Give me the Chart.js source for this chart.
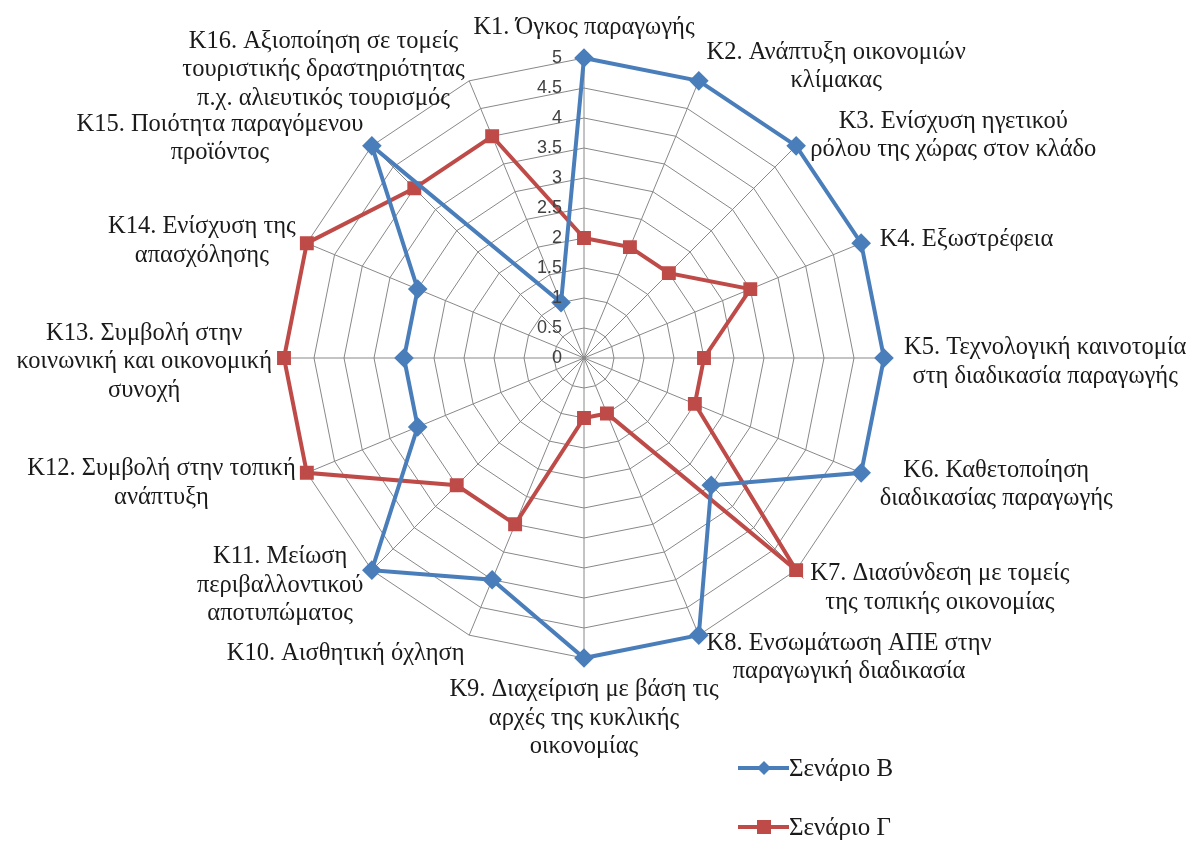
<!DOCTYPE html>
<html>
<head>
<meta charset="utf-8">
<script src="https://cdn.jsdelivr.net/npm/chart.js@4"></script>
<style>
  body { margin: 0; background: #fff; }
  #wrap { position: relative; width: 1194px; height: 841px; }
  #legend { position: absolute; left: 738px; top: 750px; font-family: "Liberation Serif", serif; font-size: 25px; color: #1a1a1a; }
  .item { display: flex; align-items: center; height: 36px; margin-bottom: 23px; }
</style>
</head>
<body>
<div id="wrap">
  <canvas id="radar" width="1194" height="841"></canvas>
  <div id="legend"></div>
</div>
<script>
const categories = [
  ['K1. Όγκος παραγωγής'],
  ['K2. Ανάπτυξη οικονομιών', 'κλίμακας'],
  ['K3. Ενίσχυση ηγετικού', 'ρόλου της χώρας στον κλάδο'],
  ['K4. Εξωστρέφεια'],
  ['K5. Τεχνολογική καινοτομία', 'στη διαδικασία παραγωγής'],
  ['K6. Καθετοποίηση', 'διαδικασίας παραγωγής'],
  ['K7. Διασύνδεση με τομείς', 'της τοπικής οικονομίας'],
  ['K8. Ενσωμάτωση ΑΠΕ στην', 'παραγωγική διαδικασία'],
  ['K9. Διαχείριση με βάση τις', 'αρχές της κυκλικής', 'οικονομίας'],
  ['K10. Αισθητική όχληση'],
  ['K11. Μείωση', 'περιβαλλοντικού', 'αποτυπώματος'],
  ['K12. Συμβολή στην τοπική', 'ανάπτυξη'],
  ['K13. Συμβολή στην', 'κοινωνική και οικονομική', 'συνοχή'],
  ['K14. Ενίσχυση της', 'απασχόλησης'],
  ['K15. Ποιότητα παραγόμενου', 'προϊόντος'],
  ['K16. Αξιοποίηση σε τομείς', 'τουριστικής δραστηριότητας', 'π.χ. αλιευτικός τουρισμός']
];
const scenarioB = [5, 5, 5, 5, 5, 5, 3, 5, 5, 4, 5, 3, 3, 3, 5, 1];
const scenarioG = [2, 2, 2, 3, 2, 2, 5, 1, 1, 3, 3, 5, 5, 5, 4, 4];
const tickLabels = ['0', '0.5', '1', '1.5', '2', '2.5', '3', '3.5', '4', '4.5', '5'];

const blue = '#4A7EBB';
const red = '#BE4B48';
const labelFont = '24.5px "Liberation Serif", serif';

// category labels with centred lines (like Excel) + tick numbers left of the first axis
const radarText = {
  id: 'radarText',
  afterDraw(chart) {
    const scale = chart.scales.r;
    const c = chart.ctx;
    const R = scale.drawingArea;
    const lh = 28.5;
    c.save();
    c.font = labelFont;
    c.fillStyle = '#1a1a1a';
    c.textBaseline = 'middle';
    c.textAlign = 'center';
    categories.forEach((lines, i) => {
      const angle = scale.getIndexAngle(i);
      const s = Math.sin(angle), co = Math.cos(angle);
      const w = Math.max(...lines.map(t => c.measureText(t).width));
      const n = lines.length;
      let cx, y0;
      if (Math.abs(s) < 0.05) {
        const p = scale.getPointPosition(i, R);
        cx = p.x;
        y0 = co > 0 ? p.y - 30 - (n - 1) * lh : p.y + 32;
      } else if (s > 0) {
        const p = scale.getPointPosition(i, R + 20);
        cx = p.x + w / 2;
        y0 = p.y + 4 - (n - 1) * lh / 2;
      } else {
        const p = scale.getPointPosition(i, R + 12);
        cx = p.x - w / 2;
        y0 = p.y + 4 - 4 * co - (n - 1) * lh / 2;
      }
      lines.forEach((t, k) => c.fillText(t, cx, y0 + lh * k));
    });
    c.font = '18px "Liberation Sans", sans-serif';
    c.fillStyle = '#404040';
    c.textAlign = 'right';
    scale.ticks.forEach((t, k) => {
      const d = scale.getDistanceFromCenterForValue(t.value);
      c.fillText(tickLabels[k], scale.xCenter - 22, scale.yCenter - d);
    });
    c.restore();
  }
};

new Chart(document.getElementById('radar'), {
  type: 'radar',
  data: {
    labels: categories,
    datasets: [
      {
        label: 'Σενάριο Β',
        data: scenarioB,
        borderColor: blue,
        backgroundColor: blue,
        borderWidth: 4,
        fill: false,
        pointStyle: 'rectRot',
        pointRadius: 7,
        pointBackgroundColor: blue,
        pointBorderColor: blue
      },
      {
        label: 'Σενάριο Γ',
        data: scenarioG,
        borderColor: red,
        backgroundColor: red,
        borderWidth: 4,
        fill: false,
        pointStyle: 'rect',
        pointRadius: 7,
        pointBackgroundColor: red,
        pointBorderColor: red
      }
    ]
  },
  options: {
    responsive: false,
    animation: false,
    layout: { padding: { left: 284, right: 309, top: 58, bottom: 182 } },
    elements: { line: { tension: 0 } },
    plugins: { legend: { display: false }, tooltip: { enabled: false } },
    scales: {
      r: {
        min: 0,
        max: 5,
        ticks: { stepSize: 0.5, display: false },
        pointLabels: { display: false },
        grid: { color: '#888888', lineWidth: 1 },
        angleLines: { color: '#888888', lineWidth: 1 }
      }
    }
  },
  plugins: [radarText]
});

// legend: short line with the marker in the middle
const legendEl = document.getElementById('legend');
[['Σενάριο Β', blue, 'diamond'], ['Σενάριο Γ', red, 'square']].forEach(([name, col, shape]) => {
  const mark = shape === 'diamond'
    ? `<polygon points="26,9 33,16 26,23 19,16" fill="${col}"/>`
    : `<rect x="19" y="9" width="14" height="14" fill="${col}"/>`;
  const div = document.createElement('div');
  div.className = 'item';
  div.innerHTML = `<svg width="51" height="32"><line x1="0" y1="16" x2="51" y2="16" stroke="${col}" stroke-width="4"/>${mark}</svg><span>${name}</span>`;
  legendEl.appendChild(div);
});
</script>
</body>
</html>
